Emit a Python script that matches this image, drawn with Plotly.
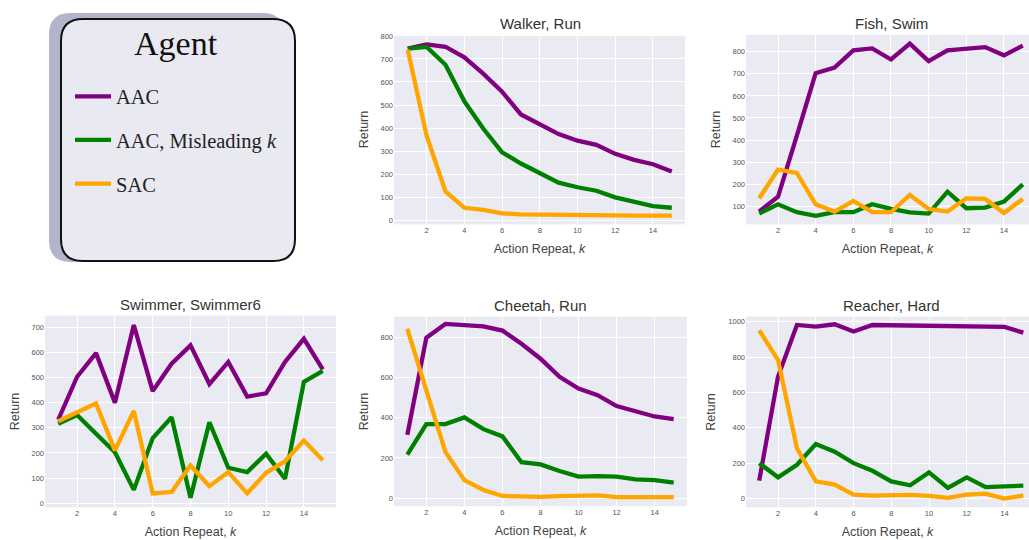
import plotly.graph_objects as go

W, H = 1029, 540

k = list(range(1, 16))

# ---- data ----
walker_aac = [745, 763, 753, 707, 636, 558, 459, 417, 374, 345, 327, 288, 262, 243, 211]
walker_mis = [745, 752, 675, 516, 398, 295, 246, 203, 163, 143, 128, 99, 78, 61, 54]
walker_sac = [740, 367, 125, 54, 45, 30, 25, 25, 25, 23, 22, 21, 20, 20, 20]

fish_aac = [76, 143, 420, 703, 728, 806, 815, 765, 837, 758, 806, 815, 821, 784, 828]
fish_mis = [67, 109, 73, 57, 73, 73, 109, 88, 72, 67, 166, 91, 94, 121, 199]
fish_sac = [136, 266, 251, 109, 76, 124, 73, 73, 151, 88, 76, 136, 133, 69, 133]

swim_aac = [332, 503, 597, 400, 709, 446, 555, 628, 474, 562, 424, 437, 562, 654, 532]
swim_mis = [316, 351, 276, 203, 53, 259, 342, 22, 322, 141, 124, 197, 97, 483, 526]
swim_sac = [326, 362, 397, 210, 367, 39, 45, 150, 68, 124, 39, 121, 167, 249, 171]

cheetah_aac = [315, 797, 866, 861, 854, 833, 767, 693, 603, 545, 512, 458, 434, 406, 393]
cheetah_mis = [217, 368, 368, 401, 343, 307, 179, 168, 135, 107, 110, 107, 94, 90, 77]
cheetah_sac = [841, 529, 230, 90, 41, 11, 7, 7, 10, 13, 14, 5, 5, 5, 5]

reacher_aac = [101, 690, 981, 972, 985, 944, 981, 980, 980, 978, 975, 975, 972, 970, 938]
reacher_mis = [200, 120, 191, 308, 265, 200, 157, 97, 75, 148, 60, 120, 65, 69, 73]
reacher_sac = [951, 783, 284, 97, 79, 22, 17, 19, 21, 15, 4, 22, 28, 0, 17]

titles = ["Walker, Run", "Fish, Swim", "Swimmer, Swimmer6", "Cheetah, Run", "Reacher, Hard"]
series_names = ["AAC", "AAC, Misleading <i>k</i>", "SAC"]
colors = ["#800080", "#008000", "#FFA500"]
legend_title = "Agent"

panels = [
    (walker_aac, walker_mis, walker_sac),
    (fish_aac, fish_mis, fish_sac),
    (swim_aac, swim_mis, swim_sac),
    (cheetah_aac, cheetah_mis, cheetah_sac),
    (reacher_aac, reacher_mis, reacher_sac),
]

# ---- layout geometry (pixels) ----
def px_x(p):
    return p / W

def px_y(p):
    return 1 - p / H

# (left, right, top, bottom) in pixels, x range, y range, y ticks, title center x
geo = [
    ((394, 685, 32, 223), [0.27, 15.7], [-18, 805], list(range(0, 801, 100)), 540),
    ((746, 1029, 32, 223), [0.3, 15.33], [18, 877], list(range(100, 801, 100)), 891),
    ((45, 336, 315, 508), [0.3, 15.7], [-16, 746], list(range(0, 701, 100)), 190),
    ((394, 687, 316, 507), [0.3, 15.7], [-40, 902], list(range(0, 801, 200)), 540),
    ((746, 1029, 316, 508), [0.3, 15.3], [-49, 1028], list(range(0, 1001, 200)), 891),
]

fig = go.Figure()

tick_font = dict(family="Liberation Sans", size=7.5, color="#555555")
label_font = dict(family="Liberation Sans", size=12.5, color="#444444")

annotations = []
for i, (series, g) in enumerate(zip(panels, geo)):
    (l, r, t, b), xr, yr, yt, tcx = g
    sx = "" if i == 0 else str(i + 1)
    for j, (vals, name, col) in enumerate(zip(series, series_names, colors)):
        fig.add_trace(go.Scatter(
            x=k, y=vals, mode="lines", name=name,
            line=dict(color=col, width=4.3),
            xaxis="x" + sx, yaxis="y" + sx,
            showlegend=(i == 0), legendgroup=str(j),
        ))
    xa = dict(
        domain=[px_x(l), px_x(r)], range=xr, anchor="y" + sx,
        tickvals=list(range(2, 15, 2)), showgrid=True, gridcolor="white", gridwidth=1,
        zeroline=False, showline=False, ticks="", tickfont=tick_font,
        title=dict(text="Action Repeat, <i>k</i>", font=label_font, standoff=10),
    )
    ya = dict(
        domain=[px_y(b), px_y(t)], range=yr, anchor="x" + sx,
        tickvals=yt, showgrid=True, gridcolor="white", gridwidth=1,
        zeroline=False, showline=False, ticks="", tickfont=tick_font,
        title=dict(text="Return", font=label_font, standoff=9),
    )
    fig.update_layout(**{"xaxis" + sx: xa, "yaxis" + sx: ya})
    annotations.append(dict(
        text=titles[i], x=px_x(tcx), y=px_y(t - 11), xref="paper", yref="paper",
        xanchor="center", yanchor="middle", showarrow=False,
        font=dict(family="Liberation Sans", size=15, color="#333333"),
    ))

# legend title
annotations.append(dict(
    text=legend_title, x=px_x(176), y=px_y(41), xref="paper", yref="paper",
    xanchor="center", yanchor="middle", showarrow=False,
    font=dict(family="Liberation Serif", size=34, color="#111111"),
))

# legend box (shadow + rounded box)
def rounded(x0, y0, x1, y1, r):
    rx, ry = r / W, r / H
    X0, X1 = px_x(x0), px_x(x1)
    Y0, Y1 = px_y(y0), px_y(y1)  # Y0 top, Y1 bottom
    return (f"M {X0+rx},{Y0} L {X1-rx},{Y0} Q {X1},{Y0} {X1},{Y0-ry} "
            f"L {X1},{Y1+ry} Q {X1},{Y1} {X1-rx},{Y1} L {X0+rx},{Y1} "
            f"Q {X0},{Y1} {X0},{Y1+ry} L {X0},{Y0-ry} Q {X0},{Y0} {X0+rx},{Y0} Z")

shapes = [
    dict(type="path", path=rounded(49, 10, 284, 261, 22), xref="paper", yref="paper",
         fillcolor="#B3B3CE", line=dict(width=0), layer="below"),
    dict(type="path", path=rounded(61, 16, 295, 260, 22), xref="paper", yref="paper",
         fillcolor="#E9E9F1", line=dict(color="#111111", width=2), layer="below"),
]

fig.update_layout(
    width=W, height=H, autosize=False,
    margin=dict(l=0, r=0, t=0, b=0),
    paper_bgcolor="white", plot_bgcolor="#EAEAF2",
    annotations=annotations, shapes=shapes,
    legend=dict(
        x=px_x(70), y=px_y(74), xanchor="left", yanchor="top",
        bgcolor="rgba(0,0,0,0)", borderwidth=0,
        font=dict(family="Liberation Serif", size=20.5, color="#222222"),
        tracegroupgap=14, itemwidth=36,
    ),
)

fig.write_html("out.html")
